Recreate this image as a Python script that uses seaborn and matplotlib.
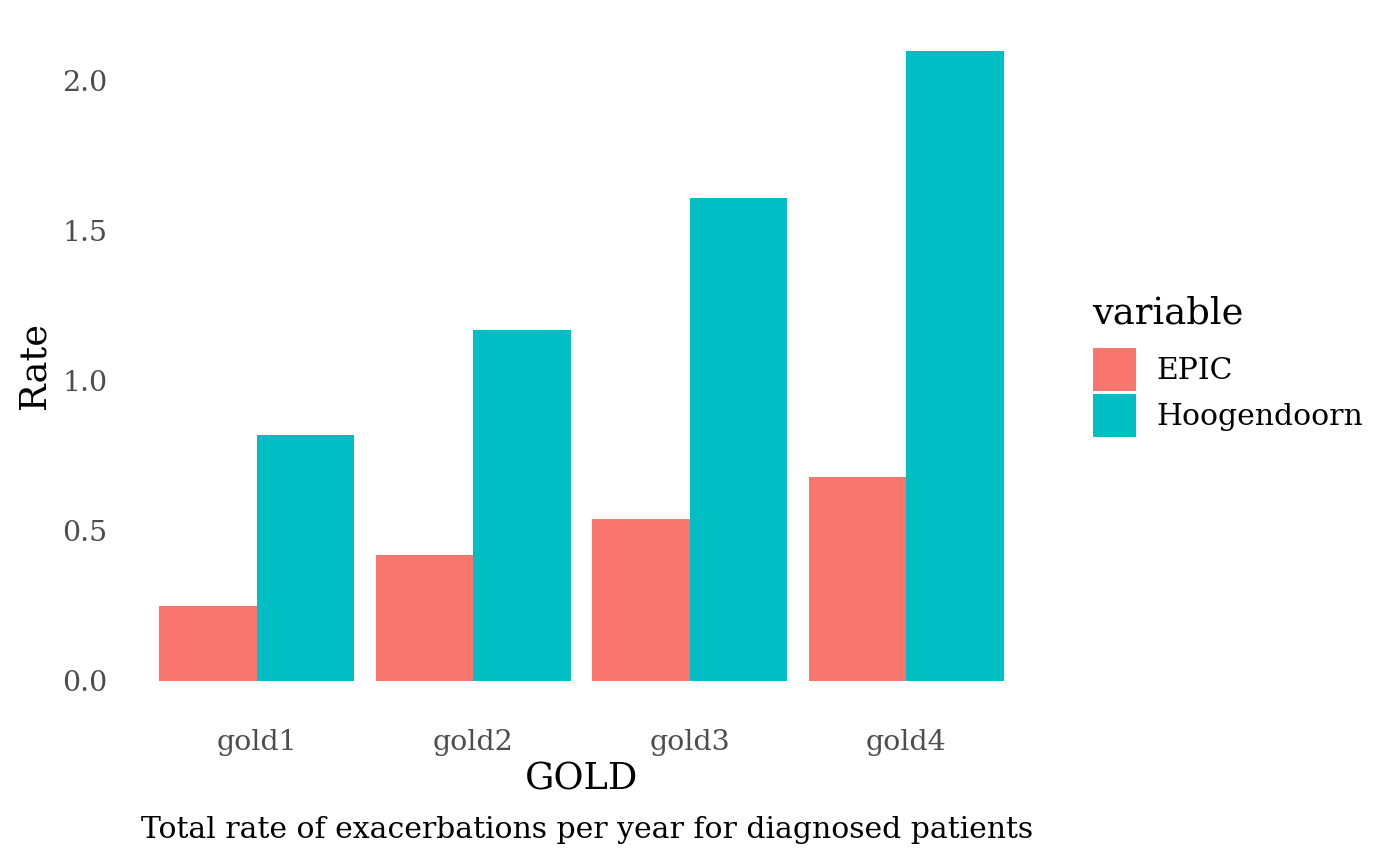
import pandas as pd
import seaborn as sns
from matplotlib import pyplot as plt

gold = ["gold1", "gold2", "gold3", "gold4"]
epic = [0.25, 0.42, 0.54, 0.68]
hoogendoorn = [0.82, 1.17, 1.61, 2.10]
variables = ["EPIC", "Hoogendoorn"]
colors = ["#F8766D", "#00BFC4"]

df = pd.DataFrame({
    "GOLD": gold * 2,
    "variable": ["EPIC"] * 4 + ["Hoogendoorn"] * 4,
    "Rate": epic + hoogendoorn,
})

sns.set_style("white")
plt.rcParams["font.family"] = ["DejaVu Serif"]
plt.rcParams["text.color"] = "black"
plt.rcParams["axes.labelcolor"] = "black"

fig = plt.figure(figsize=(14, 8.65), dpi=100)
ax = fig.add_axes([0.0907, 0.1763, 0.6493, 0.8012])

sns.barplot(data=df, x="GOLD", y="Rate", hue="variable", hue_order=variables,
            palette=colors, width=0.9, gap=0, saturation=1, linewidth=0, ax=ax)

ax.set_xlim(-0.6, 3.6)
ax.set_ylim(-0.105, 2.205)
ax.set_yticks([0.0, 0.5, 1.0, 1.5, 2.0])
ax.set_yticklabels(["0.0", "0.5", "1.0", "1.5", "2.0"])
for s in ax.spines.values():
    s.set_visible(False)
ax.tick_params(axis="both", length=0, labelsize=20.5, labelcolor="#4D4D4D")
ax.tick_params(axis="y", pad=14)
ax.tick_params(axis="x", pad=12)
ax.set_xlabel("GOLD", fontsize=26.5, labelpad=4)
ax.set_ylabel("Rate", fontsize=26.5, labelpad=7)

# legend keys, title drawn separately to get ggplot-like spacing
leg = ax.legend(loc="center left", bbox_to_anchor=(1.0627, 0.4618),
                frameon=False, fontsize=21.5,
                handlelength=1.43, handleheight=1.84, labelspacing=0.08,
                handletextpad=0.7, borderaxespad=0, borderpad=0)
ax.text(1.0616, 0.5762, "variable", transform=ax.transAxes,
        ha="left", va="center", fontsize=26.5)

fig.text(0.738, 0.04, "Total rate of exacerbations per year for diagnosed patients",
         ha="right", va="center", fontsize=21.5)

fig.savefig("out.png", facecolor="white")
